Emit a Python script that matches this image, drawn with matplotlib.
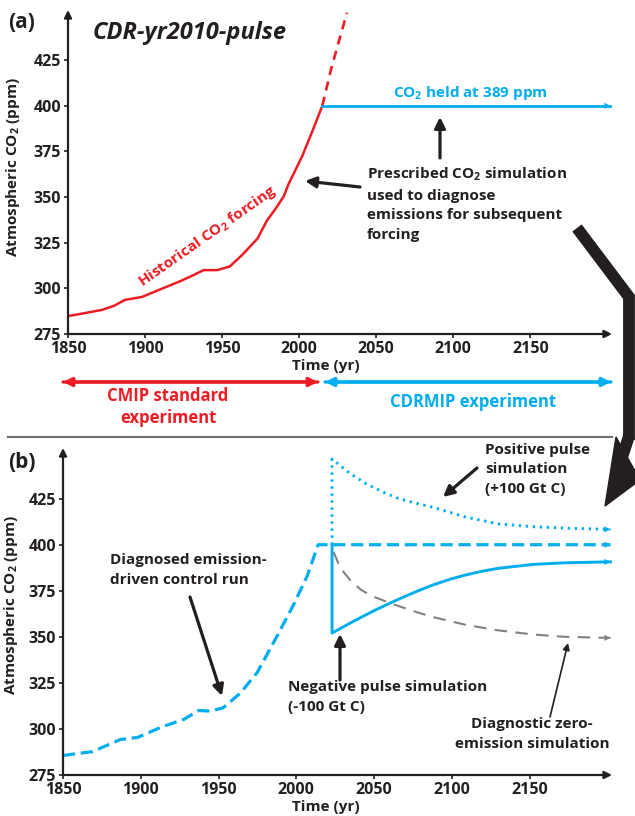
import matplotlib
matplotlib.use('Agg')
import matplotlib.pyplot as plt
from matplotlib.patches import Polygon, FancyArrowPatch
from matplotlib.lines import Line2D

W, H = 635, 816
RED = '#ED1C24'
BLUE = '#00AEEF'
GREY = '#808285'
INK = '#231F20'
FONT = ['Open Sans', 'DejaVu Sans']

plt.rcParams['font.family'] = FONT
plt.rcParams['font.weight'] = 'bold'
plt.rcParams['mathtext.default'] = 'regular'

# panel (a): prescribed CO2
hist_year = [1850, 1860, 1872, 1880, 1887, 1898, 1910, 1923, 1932, 1938, 1947,
             1955, 1963, 1973, 1979, 1985, 1990, 1993, 2002, 2009, 2015]
hist_co2 = [284.8, 286.3, 288.2, 290.5, 293.7, 295.3, 299.5, 304, 307.5, 310,
            310, 312, 318.3, 327.3, 337, 344, 350.4, 356.9, 372.5, 387, 400]
rcp_year = [2015, 2021, 2026, 2031]
rcp_co2 = [400, 421, 436, 451]
held_year = [2015, 2202]
held_co2 = [400, 400]

# panel (b): emission-driven runs
ctrl_year = [1850, 1869, 1887, 1898, 1913, 1928, 1937, 1945, 1953, 1964, 1975,
             1988, 1998, 2007, 2014, 2202]
ctrl_co2 = [285.6, 287.7, 294.3, 295.4, 300.9, 305.3, 310, 309.7, 311.5, 319.4,
            330.8, 351, 367, 383, 400, 400]
pos_year = [2023, 2023, 2034, 2045, 2056, 2066, 2077, 2088, 2109, 2130, 2152,
            2173, 2202]
pos_co2 = [400, 446.5, 439, 433, 428.5, 425, 422.5, 420.3, 415, 411.3, 409.8,
           409, 408.3]
neg_year = [2023, 2023, 2031, 2041, 2050, 2060, 2070, 2079, 2088, 2099, 2109,
            2120, 2130, 2152, 2173, 2202]
neg_co2 = [400, 352, 355.8, 360.3, 364.2, 368.2, 372, 375.2, 378.2, 381.3,
           383.6, 385.7, 387.2, 389.3, 390.2, 390.7]
zero_year = [2024, 2027, 2031, 2036, 2042, 2049, 2063, 2077, 2088, 2109, 2130,
             2152, 2173, 2202]
zero_co2 = [396, 390, 384.5, 379.5, 375.3, 372, 367.5, 363.5, 360.7, 356.5,
            353.5, 351.3, 350, 349.4]

xticks = [1850, 1900, 1950, 2000, 2050, 2100, 2150]
yticks = [275, 300, 325, 350, 375, 400, 425]
ylab = 'Atmospheric CO$_{2}$ (ppm)'


def fp(x, y):
    return x / W, 1 - y / H


def axes_box(l, r, t, b):
    return [l / W, 1 - b / H, (r - l) / W, (b - t) / H]


def setup(ax):
    ax.set_xlim(1850, 2203)
    ax.set_ylim(275, 452.5)
    for s in ax.spines.values():
        s.set_visible(False)
    ax.set_xticks(xticks)
    ax.set_yticks(yticks)
    ax.tick_params(length=3, width=1.2, color=INK, labelsize=11.5,
                   labelcolor=INK, pad=2)
    for lab in ax.get_xticklabels() + ax.get_yticklabels():
        lab.set_fontweight('bold')
    arrow = dict(arrowstyle='-|>', lw=1.6, color=INK, mutation_scale=11,
                 shrinkA=0, shrinkB=0)
    ax.annotate('', xy=(1, 0), xytext=(0, 0), xycoords='axes fraction',
                arrowprops=arrow)
    ax.annotate('', xy=(0, 1), xytext=(0, 0), xycoords='axes fraction',
                arrowprops=arrow)
    ax.set_ylabel(ylab, fontsize=11, fontweight='bold', color=INK)
    ax.patch.set_visible(False)


def end_head(ax, xs, ys, color, scale=11):
    ax.annotate('', xy=(xs[-1], ys[-1]),
                xytext=(xs[-1] - 4, ys[-2] + (ys[-1] - ys[-2]) * 0.9),
                arrowprops=dict(arrowstyle='-|>', color=color, lw=0,
                                mutation_scale=scale, shrinkA=0, shrinkB=0))


fig = plt.figure(figsize=(W / 100, H / 100), dpi=100)

# ---------- panel (a)
ax1 = fig.add_axes(axes_box(68, 612, 10, 334))
setup(ax1)
ax1.plot(hist_year, hist_co2, color=RED, lw=1.8, solid_joinstyle='round')
ax1.plot(rcp_year, rcp_co2, color=RED, lw=1.9, linestyle=(0, (3.5, 2.5)))
ax1.plot(held_year, held_co2, color=BLUE, lw=2.0)
end_head(ax1, held_year, held_co2, BLUE)

# ---------- panel (b)
ax2 = fig.add_axes(axes_box(63, 612, 448, 775))
setup(ax2)
ax2.plot(ctrl_year, ctrl_co2, color=BLUE, lw=2.3, linestyle=(0, (3.8, 1.8)))
ax2.plot(pos_year, pos_co2, color=BLUE, lw=2.1, linestyle=(0, (0.8, 1.6)))
ax2.plot(neg_year, neg_co2, color=BLUE, lw=2.1, solid_joinstyle='round')
ax2.plot(zero_year, zero_co2, color=GREY, lw=1.5, linestyle=(0, (6, 4)))
end_head(ax2, ctrl_year, ctrl_co2, BLUE)
end_head(ax2, pos_year, pos_co2, BLUE)
end_head(ax2, neg_year, neg_co2, BLUE)
end_head(ax2, zero_year, zero_co2, GREY)

ax1.yaxis.set_label_coords(-0.085, 0.515)
ax2.yaxis.set_label_coords(-0.078, 0.52)


def ftext(x, y, s, **kw):
    kw.setdefault('color', INK)
    kw.setdefault('fontweight', 'bold')
    kw.setdefault('va', 'center')
    fig.text(*fp(x, y), s, **kw)


def farrow(x0, y0, x1, y1, color=INK, lw=2.3, scale=16):
    fig.patches.append(FancyArrowPatch(
        fp(x0, y0), fp(x1, y1), transform=fig.transFigure,
        arrowstyle='-|>', mutation_scale=scale, lw=lw, color=color,
        shrinkA=0, shrinkB=0))


ftext(8, 22, '(a)', fontsize=15)
ftext(190, 33, 'CDR-yr2010-pulse', fontsize=17, style='italic', ha='center')
ftext(207, 236, 'Historical CO$_{2}$ forcing', fontsize=11, color=RED,
      rotation=35, ha='center', rotation_mode='anchor')
ftext(470, 93, 'CO$_{2}$ held at 389 ppm', fontsize=11, color=BLUE, ha='center')
farrow(440, 158, 440, 117)
ftext(367, 166, 'Prescribed CO$_{2}$ simulation\nused to diagnose\n'
      'emissions for subsequent\nforcing', fontsize=11, ha='left', va='top',
      linespacing=1.5)
farrow(360, 187, 305, 181)
ftext(326, 366, 'Time (yr)', fontsize=11, ha='center')

# experiment span arrows
for x0, x1, c in [(63, 318, RED), (325, 611, BLUE)]:
    farrow(x0, 382, x1, 382, color=c, lw=2.3, scale=13)
    farrow(x1, 382, x0, 382, color=c, lw=2.3, scale=13)
ftext(168, 407, 'CMIP standard\nexperiment', fontsize=12, color=RED,
      ha='center', linespacing=1.3)
ftext(473, 402, 'CDRMIP experiment', fontsize=12, color=BLUE, ha='center')
fig.lines.append(Line2D([8 / W, 612 / W], [1 - 437 / H] * 2, color='#6D6E71',
                        lw=1.5, transform=fig.transFigure))

# big bent arrow linking the panels
shaft = [(577, 228), (629, 297), (629, 440)]
fig.lines.append(Line2D([fp(*p)[0] for p in shaft], [fp(*p)[1] for p in shaft],
                        color=INK, lw=8.5, solid_joinstyle='miter',
                        solid_capstyle='butt', transform=fig.transFigure))
head = [fp(616, 437), fp(640, 480), fp(605, 506)]
fig.patches.append(Polygon(head, closed=True, color=INK,
                           transform=fig.transFigure))
seg = [(629, 436), (618, 470)]
fig.lines.append(Line2D([fp(*p)[0] for p in seg], [fp(*p)[1] for p in seg],
                        color=INK, lw=8.5, solid_capstyle='butt',
                        transform=fig.transFigure))

ftext(8, 462, '(b)', fontsize=15)
ftext(110, 553, 'Diagnosed emission-\ndriven control run', fontsize=11,
      ha='left', va='top', linespacing=1.5)
farrow(190, 597, 222, 696)
ftext(485, 443, 'Positive pulse\nsimulation\n(+100 Gt C)', fontsize=11,
      ha='left', va='top', linespacing=1.5)
farrow(477, 468, 443, 497)
farrow(340, 680, 340, 634)
ftext(288, 680, 'Negative pulse simulation\n(-100 Gt C)', fontsize=11,
      ha='left', va='top', linespacing=1.5)
farrow(550, 717, 568, 643, lw=1.2, scale=10)
ftext(532, 717, 'Diagnostic zero-\nemission simulation', fontsize=11,
      ha='center', va='top', linespacing=1.5)
ftext(326, 807, 'Time (yr)', fontsize=11, ha='center')

fig.savefig('out.png', dpi=100)
